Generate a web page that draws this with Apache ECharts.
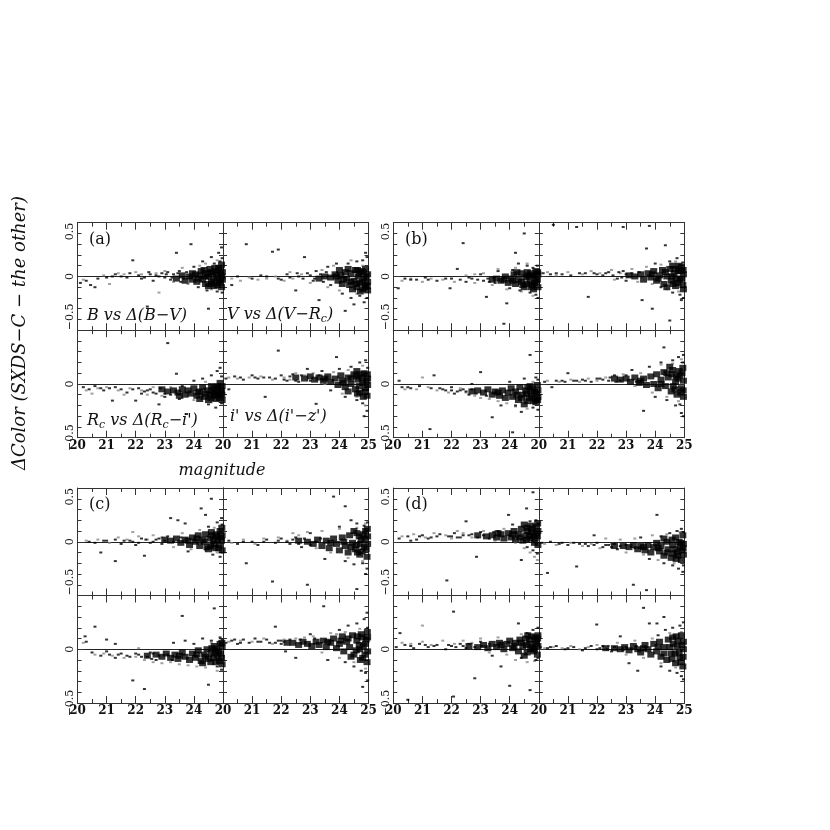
<!DOCTYPE html>
<html>
<head>
<meta charset="utf-8">
<script src="https://cdn.jsdelivr.net/npm/echarts@6/dist/echarts.min.js"></script>
<style>
html, body { margin: 0; padding: 0; background: #fff; }
#chart { width: 830px; height: 830px; }
</style>
</head>
<body>
<div id="chart"></div>
<script>
// axes: magnitude vs colour difference (SXDS-C minus the other catalogue)
const magTicks = [20, 21, 22, 23, 24, 25];
const colorTicks = [-0.5, 0, 0.5];
const groupTags = ['(a)', '(b)', '(c)', '(d)'];

// each panel: dense core, single black dots, grey dots  [mag, dColor]
// --- group (a)
const aTL_core = [[23.85,0.00],[23.95,-0.03],[24.05,0.02],[24.1,-0.05],[24.2,0.01],[24.25,0.05],[24.3,-0.03],[24.4,-0.07],[24.45,0.03],[24.5,0.0],[24.55,0.07],[24.6,-0.05],[24.65,0.03],[24.7,-0.09],[24.75,0.05],[24.8,-0.02],[24.85,0.08],[24.9,-0.06],[24.9,0.02],[24.95,0.11],[24.95,-0.1],[24.98,0.04],[24.98,-0.03],[24.5,-0.09],[24.35,0.06],[23.6,0.01],[23.4,-0.02],[23.7,-0.04],
  [24.92,0.06],[24.88,-0.04],[24.78,0.02],[24.68,-0.03],[24.58,0.04],[24.62,-0.07],[24.82,-0.08],[24.72,0.08],[24.96,0.0],[24.4,0.0],[24.15,-0.02],[23.95,0.03]];
const aTL_dots = [[20.1,-0.06],[20.3,-0.04],[20.45,-0.08],[20.7,-0.02],[21.0,-0.01],[21.3,0.02],[21.5,0.0],[21.8,0.03],[21.9,0.15],[22.1,0.01],[22.3,-0.01],[22.5,0.02],[22.6,-0.04],[22.8,0.0],[22.9,0.03],[23.0,-0.01],[23.1,0.04],[23.2,-0.03],[23.3,0.02],[23.4,0.22],[23.5,0.05],[23.55,-0.05],[23.9,0.3],[24.0,0.09],[24.15,-0.1],[24.3,0.14],[24.45,-0.13],[24.5,-0.3],[24.6,0.18],[24.7,0.12],[24.8,-0.14],[24.85,0.22],[24.95,0.27],[24.97,0.17],[24.97,-0.15],[24.9,0.14],[22.4,-0.28],[20.6,-0.1],
  [22.2,-0.02],[22.45,0.04],[22.7,0.01],[23.05,0.02],[23.25,-0.01],[23.45,0.03],[23.65,-0.02],[23.75,0.04],[21.2,0.0],[21.7,-0.01]];
const aTL_grey = [[20.2,-0.03],[20.9,0.01],[21.4,0.03],[21.6,0.02],[22.0,0.04],[22.2,0.02],[22.7,0.03],[23.0,0.05],[23.3,-0.05],[23.6,0.08],[23.8,-0.07],[24.2,0.1],[24.4,0.12],[24.6,-0.12],[24.8,0.15],[21.1,-0.07],[22.8,-0.15]];

const aTR_core = [[23.7,-0.01],[23.85,0.02],[23.95,-0.04],[24.05,0.01],[24.1,-0.07],[24.2,0.04],[24.25,-0.02],[24.35,-0.08],[24.4,0.03],[24.5,-0.04],[24.55,0.06],[24.6,-0.1],[24.65,0.0],[24.7,-0.06],[24.75,0.05],[24.8,-0.12],[24.85,-0.02],[24.9,0.07],[24.9,-0.08],[24.97,0.02],[24.97,-0.13],[24.97,-0.05],[24.45,-0.12],[24.3,0.07],[23.5,0.0],[23.3,-0.02],[24.0,0.06],
  [24.92,0.0],[24.88,-0.1],[24.78,-0.05],[24.68,0.03],[24.58,-0.07],[24.62,0.06],[24.82,0.04],[24.72,-0.14],[24.96,-0.09],[24.4,-0.05],[24.15,-0.03],[23.9,0.0]];
const aTR_dots = [[20.5,0.0],[20.8,0.3],[21.0,-0.02],[21.3,0.01],[21.7,0.23],[21.9,0.25],[22.0,-0.03],[22.2,0.02],[22.5,-0.13],[22.6,0.0],[22.9,0.03],[23.1,-0.04],[23.3,-0.22],[23.2,0.05],[23.6,0.09],[23.7,-0.08],[23.9,0.12],[24.1,-0.16],[24.3,0.12],[24.4,-0.2],[24.6,0.14],[24.7,-0.18],[24.8,0.15],[24.9,0.22],[24.95,0.18],[24.95,-0.2],[24.85,-0.24],[24.5,-0.26],[22.8,0.18],[20.3,-0.08],[24.2,-0.32],
  [22.3,-0.01],[22.55,0.03],[22.75,-0.02],[23.0,0.01],[23.15,-0.02],[23.35,0.02],[23.45,-0.05],[23.55,0.04],[21.5,0.0],[21.9,-0.02]];
const aTR_grey = [[20.3,-0.02],[20.6,-0.04],[20.9,-0.01],[21.2,-0.03],[21.5,-0.02],[21.8,0.0],[22.1,-0.04],[22.4,-0.02],[22.7,0.02],[23.0,-0.06],[23.4,0.06],[23.6,-0.1],[23.8,0.1],[24.0,-0.13],[24.4,0.15],[24.6,-0.16],[24.8,0.1],[22.3,0.04]];

const aBL_core = [[23.3,-0.06],[23.45,-0.08],[23.6,-0.05],[23.7,-0.1],[23.8,-0.06],[23.9,-0.09],[24.0,-0.04],[24.1,-0.11],[24.2,-0.07],[24.3,-0.03],[24.35,-0.12],[24.45,-0.06],[24.55,-0.1],[24.6,-0.02],[24.7,-0.08],[24.75,-0.14],[24.8,-0.04],[24.85,-0.1],[24.9,0.01],[24.95,-0.07],[24.97,-0.15],[24.97,-0.02],[24.5,-0.15],[23.1,-0.07],[22.9,-0.05],[24.2,-0.14],
  [24.92,-0.05],[24.88,-0.13],[24.78,-0.09],[24.68,-0.04],[24.58,-0.13],[24.62,-0.07],[24.82,-0.02],[24.72,-0.11],[24.96,-0.1],[24.4,-0.09],[24.15,-0.08],[23.5,-0.11]];
const aBL_dots = [[20.2,-0.03],[20.4,-0.05],[20.6,-0.02],[20.9,-0.06],[21.1,-0.04],[21.2,-0.155],[21.5,-0.05],[21.7,-0.08],[22.0,-0.155],[22.1,-0.04],[22.3,-0.07],[22.5,-0.05],[22.7,-0.09],[22.8,-0.19],[23.1,0.38],[23.4,0.095],[23.75,-0.28],[24.0,0.03],[24.3,0.05],[24.5,-0.19],[24.6,0.08],[24.8,0.12],[24.9,0.15],[24.95,0.07],[24.95,-0.18],[23.0,-0.12],[23.5,-0.14],[24.75,-0.22],
  [21.9,-0.05],[22.2,-0.09],[22.4,-0.06],[22.6,-0.08],[22.85,-0.04],[23.0,-0.09],[23.2,-0.1],[21.3,-0.03],[20.8,-0.04],[23.6,-0.02]];
const aBL_grey = [[20.3,-0.06],[20.7,-0.04],[21.0,-0.03],[21.4,-0.06],[21.8,-0.04],[22.2,-0.06],[22.4,-0.1],[22.6,-0.03],[22.9,-0.11],[23.2,-0.03],[23.6,-0.13],[24.0,-0.15],[24.4,0.02],[24.6,-0.17],[21.6,-0.1],[20.5,-0.09]];

const aBR_core = [[22.8,0.05],[23.0,0.07],[23.15,0.04],[23.3,0.06],[23.45,0.03],[23.6,0.07],[23.7,0.02],[23.85,0.05],[23.95,-0.01],[24.05,0.08],[24.1,0.03],[24.2,-0.03],[24.3,0.06],[24.4,0.0],[24.5,0.09],[24.55,-0.05],[24.65,0.04],[24.7,-0.08],[24.8,0.01],[24.85,0.1],[24.9,-0.04],[24.95,-0.11],[24.97,0.05],[24.97,-0.01],[24.6,0.12],[24.3,-0.07],[22.5,0.06],
  [24.92,0.03],[24.88,-0.07],[24.78,0.06],[24.68,-0.02],[24.58,0.07],[24.62,-0.09],[24.82,-0.12],[24.72,0.09],[24.96,0.09],[24.4,0.05],[24.15,0.01],[23.5,0.05]];
const aBR_dots = [[20.1,0.05],[20.4,0.07],[20.7,0.04],[21.0,0.08],[21.2,0.05],[21.45,-0.12],[21.6,0.06],[21.9,0.31],[22.0,0.08],[22.2,0.03],[22.4,0.09],[22.6,0.02],[23.2,-0.185],[23.4,0.12],[23.9,0.25],[23.7,-0.06],[24.0,0.14],[24.2,-0.12],[24.4,0.16],[24.6,-0.15],[24.7,0.2],[24.8,-0.18],[24.9,0.22],[24.95,-0.25],[24.97,0.15],[24.85,-0.3],[22.9,0.14],[20.2,-0.05],
  [21.4,0.06],[21.8,0.05],[22.1,0.04],[22.3,0.07],[22.5,0.03],[22.7,0.08],[23.0,0.03],[23.3,0.08],[20.6,0.06],[21.1,0.06]];
const aBR_grey = [[20.2,0.06],[20.5,0.05],[20.9,0.06],[21.3,0.07],[21.7,0.04],[22.1,0.06],[22.5,0.1],[22.8,0.08],[23.1,0.1],[23.5,0.0],[23.8,0.11],[24.1,-0.09],[24.3,0.13],[24.6,-0.12],[24.8,0.17],[24.9,-0.2],[22.3,0.04]];

// --- group (b)
const bTL_core = [[23.55,-0.02],[23.7,-0.04],[23.85,0.0],[23.95,-0.06],[24.05,-0.02],[24.15,0.02],[24.2,-0.07],[24.3,-0.03],[24.4,0.03],[24.45,-0.08],[24.55,-0.01],[24.6,0.04],[24.7,-0.05],[24.75,-0.1],[24.8,0.01],[24.85,-0.06],[24.9,0.05],[24.95,-0.03],[24.97,-0.1],[24.97,0.02],[24.5,-0.1],[23.4,-0.03],[24.25,0.04],
  [24.92,-0.05],[24.88,0.0],[24.78,-0.08],[24.68,0.0],[24.58,-0.07],[24.62,0.01],[24.82,-0.12],[24.72,0.03],[24.96,0.04],[24.4,-0.05],[24.1,-0.04],[23.8,-0.03]];
const bTL_dots = [[20.17,-0.11],[20.4,-0.02],[20.8,-0.03],[21.1,-0.01],[21.5,-0.04],[21.95,-0.11],[22.0,-0.02],[22.2,0.07],[22.4,0.31],[22.6,-0.01],[22.9,-0.03],[23.0,0.02],[23.2,-0.19],[23.3,-0.05],[23.8,-0.44],[23.9,-0.25],[24.1,0.06],[24.2,0.22],[24.3,0.12],[24.35,-0.13],[24.5,0.4],[24.6,0.1],[24.7,-0.15],[24.8,0.08],[24.9,-0.17],[24.95,0.1],[24.97,-0.2],[23.6,0.05],[24.0,-0.11],
  [22.3,-0.03],[22.5,-0.05],[22.7,-0.02],[23.1,-0.04],[23.25,-0.02],[23.45,-0.01],[21.8,-0.02],[21.2,-0.03],[20.6,-0.03],[23.5,-0.06]];
const bTL_grey = [[20.3,-0.04],[20.6,-0.02],[21.0,-0.05],[21.3,-0.02],[21.7,-0.03],[22.1,-0.05],[22.5,0.01],[22.8,-0.06],[23.1,0.03],[23.4,-0.08],[23.6,0.07],[23.9,-0.12],[24.2,0.08],[24.4,-0.14],[24.6,0.12],[24.8,-0.18],[22.8,0.02]];

const bTR_core = [[23.3,0.0],[23.5,0.02],[23.6,-0.03],[23.75,0.03],[23.85,-0.01],[23.95,0.05],[24.05,-0.04],[24.15,0.01],[24.25,0.06],[24.3,-0.07],[24.4,0.0],[24.5,0.07],[24.55,-0.04],[24.65,0.03],[24.7,-0.09],[24.8,0.05],[24.85,-0.03],[24.9,0.09],[24.95,-0.08],[24.97,0.02],[24.97,-0.12],[24.4,-0.1],[24.6,0.1],[23.1,0.01],
  [24.92,-0.02],[24.88,0.05],[24.78,-0.06],[24.68,0.07],[24.58,0.0],[24.62,-0.07],[24.82,0.1],[24.72,-0.02],[24.96,0.06],[24.35,0.04],[24.1,-0.02],[23.9,0.02]];
const bTR_dots = [[20.15,0.03],[20.4,0.02],[20.5,0.48],[20.8,0.02],[21.1,0.01],[21.4,0.03],[21.7,-0.19],[21.9,0.03],[22.2,0.01],[22.4,0.04],[22.7,-0.02],[22.9,0.05],[23.0,-0.04],[23.55,-0.22],[23.7,0.26],[23.9,-0.3],[24.0,0.12],[24.2,-0.1],[24.35,0.29],[24.5,0.14],[24.6,-0.15],[24.75,0.17],[24.85,-0.17],[24.95,0.13],[24.97,-0.2],[24.9,-0.22],[22.9,0.46],[23.8,0.47],[21.3,0.46],[24.5,-0.41],
  [22.3,0.03],[22.55,0.01],[22.75,0.04],[23.0,0.02],[23.2,0.03],[22.0,0.02],[21.6,0.03],[20.6,0.03],[23.45,0.04],[22.85,-0.01]];
const bTR_grey = [[20.3,0.04],[20.6,0.01],[21.0,0.04],[21.5,0.02],[21.8,0.05],[22.1,0.03],[22.5,0.06],[22.8,0.03],[23.2,0.07],[23.4,-0.05],[23.7,0.09],[23.9,-0.07],[24.2,0.11],[24.4,-0.12],[24.7,0.14],[24.8,-0.14],[22.6,-0.03]];

const bBL_core = [[22.9,-0.06],[23.1,-0.08],[23.25,-0.05],[23.4,-0.1],[23.5,-0.07],[23.65,-0.11],[23.75,-0.06],[23.85,-0.13],[23.95,-0.08],[24.05,-0.04],[24.1,-0.12],[24.2,-0.07],[24.3,-0.15],[24.35,-0.03],[24.45,-0.1],[24.55,-0.06],[24.6,-0.16],[24.7,-0.02],[24.75,-0.11],[24.85,-0.07],[24.9,-0.17],[24.95,-0.01],[24.97,-0.12],[24.97,-0.06],[24.5,-0.19],[22.7,-0.07],
  [24.92,-0.09],[24.88,-0.14],[24.78,-0.04],[24.68,-0.13],[24.58,-0.09],[24.62,-0.03],[24.82,-0.16],[24.72,-0.07],[24.96,-0.15],[24.4,-0.13],[24.25,-0.1],[23.6,-0.08]];
const bBL_dots = [[20.2,0.03],[20.3,-0.03],[20.6,-0.04],[20.9,-0.02],[21.26,-0.42],[21.4,0.08],[21.6,-0.04],[21.8,-0.06],[22.0,-0.03],[22.2,-0.07],[22.4,-0.05],[22.6,-0.1],[23.0,0.11],[23.4,-0.31],[23.7,-0.2],[24.0,0.02],[24.2,-0.2],[24.5,0.05],[24.7,0.27],[24.8,-0.22],[24.9,0.06],[24.97,0.04],[24.97,-0.24],[24.4,-0.26],[24.1,-0.45],[22.7,0.0],
  [22.0,-0.06],[22.3,-0.06],[22.5,-0.07],[22.7,-0.05],[22.85,-0.09],[21.3,-0.04],[21.7,-0.05],[20.5,-0.03],[23.2,-0.11],[22.1,-0.09]];
const bBL_grey = [[20.4,-0.05],[20.8,-0.05],[21.2,-0.03],[21.5,-0.06],[21.9,-0.08],[22.3,-0.04],[22.5,-0.08],[22.8,-0.11],[23.0,-0.13],[23.3,-0.14],[23.6,-0.16],[23.9,-0.18],[24.2,-0.21],[24.6,-0.23],[24.8,0.02],[21.0,0.06]];

const bBR_core = [[22.8,0.04],[23.0,0.05],[23.15,0.02],[23.3,0.06],[23.45,0.01],[23.6,0.05],[23.7,-0.01],[23.85,0.07],[23.95,0.0],[24.05,0.09],[24.1,-0.04],[24.2,0.04],[24.3,0.11],[24.35,-0.02],[24.45,0.06],[24.55,-0.07],[24.6,0.13],[24.7,0.02],[24.75,-0.1],[24.85,0.08],[24.9,-0.04],[24.95,0.15],[24.97,-0.12],[24.97,0.03],[24.5,0.16],[22.6,0.05],
  [24.92,0.1],[24.88,-0.08],[24.78,0.05],[24.68,-0.05],[24.58,0.09],[24.62,-0.02],[24.82,0.12],[24.72,0.07],[24.96,-0.06],[24.4,0.1],[24.2,0.0],[23.5,0.03]];
const bBR_dots = [[20.2,0.02],[20.45,-0.03],[20.6,0.03],[20.9,0.02],[21.2,0.03],[21.5,0.04],[21.8,0.02],[22.1,0.05],[22.4,0.03],[22.6,0.08],[23.6,-0.25],[23.8,0.16],[24.0,-0.12],[24.2,0.2],[24.3,0.34],[24.4,-0.15],[24.6,0.22],[24.7,-0.2],[24.8,0.25],[24.9,-0.27],[24.95,0.2],[24.97,0.27],[24.97,-0.3],[24.85,-0.19],[23.2,0.13],[21.0,0.1],
  [22.2,0.04],[22.45,0.06],[22.8,0.03],[23.0,0.08],[21.3,0.03],[21.6,0.03],[22.0,0.05],[23.35,0.02],[20.8,0.03],[22.65,0.02]];
const bBR_grey = [[20.3,0.03],[20.7,0.02],[21.1,0.04],[21.4,0.02],[21.7,0.05],[22.0,0.03],[22.3,0.06],[22.9,0.09],[23.3,-0.02],[23.5,0.1],[23.9,-0.08],[24.2,0.18],[24.4,-0.12],[24.6,0.19],[24.8,-0.16],[24.9,0.23]];

// --- group (c)
const cTL_core = [[23.2,0.01],[23.4,0.03],[23.55,-0.01],[23.7,0.02],[23.85,-0.03],[23.95,0.04],[24.05,0.0],[24.15,0.06],[24.2,-0.04],[24.3,0.02],[24.4,0.07],[24.45,-0.05],[24.55,0.03],[24.6,0.09],[24.7,-0.02],[24.75,0.05],[24.85,-0.06],[24.9,0.1],[24.95,0.01],[24.97,-0.08],[24.97,0.06],[24.5,-0.07],[23.0,0.02],
  [24.92,0.04],[24.88,-0.03],[24.78,0.07],[24.68,0.01],[24.58,-0.04],[24.62,0.06],[24.82,0.02],[24.72,-0.06],[24.96,0.13],[24.35,0.0],[24.1,0.03],[23.8,0.01]];
const cTL_dots = [[20.4,0.0],[20.6,-0.01],[20.8,-0.1],[21.0,0.01],[21.3,0.02],[21.5,-0.02],[21.8,0.01],[22.0,-0.03],[22.2,0.03],[22.5,-0.01],[22.7,0.02],[22.9,-0.02],[23.1,0.05],[23.2,0.22],[23.45,0.2],[23.7,0.17],[24.25,0.31],[24.4,0.25],[24.6,0.4],[24.5,0.14],[24.65,-0.12],[24.8,0.18],[24.9,-0.14],[24.95,0.22],[24.97,-0.1],[24.97,0.16],[23.8,-0.09],[22.3,-0.13],[21.3,-0.18],
  [22.35,0.02],[22.6,0.0],[22.8,0.03],[23.0,0.01],[23.3,0.0],[23.55,0.04],[21.6,0.01],[21.9,0.0],[20.9,0.01],[22.1,-0.01]];
const cTL_grey = [[20.3,0.01],[20.7,0.02],[21.1,-0.01],[21.4,0.04],[21.7,0.02],[22.1,0.05],[22.4,0.02],[22.6,0.06],[22.9,0.04],[23.3,-0.05],[23.6,0.08],[23.9,-0.07],[24.2,0.11],[24.4,-0.08],[24.7,0.13],[24.8,-0.1],[21.9,0.09]];

const cTR_core = [[22.9,0.0],[23.1,-0.02],[23.25,0.02],[23.4,-0.04],[23.55,0.01],[23.65,-0.06],[23.8,0.03],[23.9,-0.02],[24.0,-0.08],[24.1,0.04],[24.2,-0.04],[24.3,-0.1],[24.35,0.06],[24.45,-0.01],[24.55,-0.07],[24.6,0.08],[24.7,-0.12],[24.75,0.02],[24.85,-0.05],[24.9,0.1],[24.95,-0.14],[24.97,-0.02],[24.97,0.05],[24.5,0.1],[22.6,0.01],
  [24.92,-0.07],[24.88,0.03],[24.78,-0.09],[24.68,0.05],[24.58,-0.03],[24.62,-0.1],[24.82,0.07],[24.72,-0.02],[24.96,0.12],[24.4,-0.05],[24.15,0.0],[23.7,-0.01]];
const cTR_dots = [[20.2,0.01],[20.5,-0.02],[20.8,-0.2],[21.0,0.0],[21.2,-0.03],[21.5,0.02],[21.8,-0.01],[22.0,0.03],[22.3,-0.02],[22.5,0.04],[22.7,-0.05],[23.0,0.08],[23.5,-0.16],[23.8,0.42],[24.0,0.14],[24.2,-0.18],[24.4,0.2],[24.5,-0.21],[24.6,0.17],[24.8,-0.2],[24.85,0.15],[24.95,-0.25],[24.97,0.18],[24.9,-0.3],[24.2,0.33],[21.7,-0.37],[22.9,-0.4],[24.6,-0.44],
  [22.2,0.0],[22.4,0.02],[22.6,-0.02],[22.8,0.03],[23.2,0.0],[23.35,0.03],[21.4,0.0],[21.9,0.01],[20.7,0.0],[23.0,-0.03]];
const cTR_grey = [[20.3,-0.01],[20.7,0.02],[21.1,-0.02],[21.4,0.03],[21.9,0.04],[22.2,0.01],[22.6,0.06],[22.9,0.09],[23.2,-0.06],[23.4,0.1],[23.7,-0.1],[24.0,0.12],[24.3,-0.15],[24.6,0.13],[24.8,-0.18],[24.9,0.17],[22.4,0.08]];

const cBL_core = [[22.7,-0.05],[22.9,-0.07],[23.05,-0.04],[23.2,-0.08],[23.35,-0.05],[23.45,-0.09],[23.6,-0.03],[23.7,-0.07],[23.85,-0.1],[23.95,-0.04],[24.05,-0.08],[24.15,-0.01],[24.25,-0.11],[24.35,-0.05],[24.45,0.0],[24.5,-0.09],[24.6,-0.04],[24.7,0.03],[24.75,-0.12],[24.85,-0.02],[24.9,0.05],[24.95,-0.08],[24.97,-0.14],[24.97,0.02],[24.3,-0.13],[22.4,-0.06],
  [24.92,-0.04],[24.88,-0.11],[24.78,0.0],[24.68,-0.08],[24.58,-0.12],[24.62,0.01],[24.82,-0.06],[24.72,-0.03],[24.96,0.06],[24.4,-0.07],[24.1,-0.05],[23.5,-0.06]];
const cBL_dots = [[20.26,0.12],[20.3,0.07],[20.6,0.21],[20.5,-0.03],[20.8,-0.06],[21.0,0.09],[21.0,-0.02],[21.3,-0.08],[21.5,-0.04],[21.7,-0.06],[21.9,-0.29],[22.0,-0.04],[22.2,-0.07],[22.3,-0.37],[22.5,-0.03],[22.7,-0.1],[23.6,0.31],[23.7,0.08],[24.0,0.05],[24.3,0.1],[24.5,-0.33],[24.6,0.08],[24.7,0.38],[24.8,-0.16],[24.9,0.11],[24.97,0.09],[24.95,-0.19],[21.3,0.05],[23.3,0.06],
  [22.1,-0.05],[22.4,-0.07],[22.6,-0.04],[22.8,-0.06],[23.1,-0.05],[21.4,-0.05],[21.8,-0.07],[21.1,-0.05],[23.25,-0.1],[22.55,-0.09]];
const cBL_grey = [[20.2,0.06],[20.6,-0.05],[20.9,-0.04],[21.2,-0.06],[21.6,-0.08],[22.0,-0.07],[22.3,-0.1],[22.6,-0.12],[22.9,-0.13],[23.2,-0.12],[23.5,-0.14],[23.8,-0.15],[24.1,-0.16],[24.4,-0.17],[24.6,0.06],[24.8,-0.2],[22.1,0.01]];

const cBR_core = [[22.4,0.06],[22.6,0.04],[22.75,0.07],[22.9,0.05],[23.05,0.03],[23.2,0.07],[23.3,0.04],[23.45,0.08],[23.55,0.02],[23.7,0.06],[23.8,0.1],[23.9,0.01],[24.0,0.05],[24.1,0.12],[24.15,-0.02],[24.25,0.07],[24.35,0.02],[24.45,0.13],[24.5,-0.05],[24.6,0.08],[24.7,0.0],[24.75,0.14],[24.8,-0.08],[24.9,0.05],[24.95,-0.12],[24.97,0.11],[24.97,-0.02],[24.4,-0.07],[22.2,0.06],
  [24.92,0.09],[24.88,-0.05],[24.78,0.11],[24.68,0.04],[24.58,-0.01],[24.62,0.12],[24.82,0.03],[24.72,-0.1],[24.96,0.16],[24.3,0.1],[24.05,0.08],[23.6,0.07]];
const cBR_dots = [[20.1,0.06],[20.3,0.08],[20.5,0.05],[20.7,0.09],[20.9,0.06],[21.1,0.1],[21.3,0.07],[21.5,0.09],[21.8,0.21],[21.8,0.06],[22.0,0.08],[22.15,-0.02],[23.46,0.4],[23.6,-0.1],[24.0,0.18],[24.2,-0.12],[24.3,0.22],[24.5,-0.16],[24.6,0.24],[24.75,-0.2],[24.85,0.28],[24.9,-0.22],[24.95,0.34],[24.97,-0.29],[24.97,0.2],[24.8,-0.35],[22.5,-0.08],[23.0,0.14],
  [21.2,0.07],[21.6,0.06],[21.9,0.08],[22.1,0.07],[22.3,0.09],[20.6,0.06],[20.4,0.09],[22.0,0.05],[23.15,0.1],[22.65,0.09]];
const cBR_grey = [[20.2,0.07],[20.6,0.08],[21.0,0.07],[21.4,0.1],[21.7,0.05],[22.1,0.09],[22.5,0.1],[22.8,0.11],[23.1,0.12],[23.4,-0.03],[23.7,0.15],[24.0,-0.08],[24.2,0.16],[24.5,-0.12],[24.7,0.19],[24.9,-0.18],[23.9,0.14]];

// --- group (d)
const dTL_core = [[23.2,0.05],[23.4,0.06],[23.55,0.04],[23.7,0.07],[23.8,0.03],[23.95,0.08],[24.05,0.04],[24.15,0.1],[24.2,0.02],[24.3,0.07],[24.4,0.12],[24.45,0.01],[24.55,0.06],[24.6,0.13],[24.7,0.03],[24.75,0.09],[24.85,-0.01],[24.9,0.14],[24.95,0.05],[24.97,0.1],[24.97,-0.03],[24.5,0.16],[22.9,0.06],
  [24.92,0.08],[24.88,0.03],[24.78,0.12],[24.68,0.06],[24.58,0.02],[24.62,0.1],[24.82,0.05],[24.72,0.15],[24.96,0.17],[24.35,0.04],[24.1,0.07],[23.6,0.08]];
const dTL_dots = [[20.2,0.03],[20.5,0.05],[20.8,0.02],[21.0,0.06],[21.3,0.04],[21.6,0.07],[21.84,-0.36],[21.9,0.05],[22.1,0.08],[22.3,0.04],[22.5,0.19],[22.6,0.06],[22.86,-0.14],[23.0,0.09],[23.3,0.03],[23.96,0.25],[24.1,0.16],[24.4,-0.17],[24.58,0.31],[24.6,-0.05],[24.7,0.19],[24.8,-0.08],[24.9,0.2],[24.95,-0.11],[24.97,0.17],[24.8,0.46],[23.6,0.1],[20.6,0.01],
  [22.0,0.05],[22.2,0.04],[22.4,0.06],[22.7,0.07],[22.9,0.04],[23.1,0.06],[21.5,0.05],[21.2,0.03],[20.9,0.05],[23.45,0.09]];
const dTL_grey = [[20.3,0.05],[20.7,0.07],[21.1,0.04],[21.4,0.08],[21.8,0.06],[22.0,0.03],[22.4,0.08],[22.7,0.04],[23.1,0.1],[23.5,0.01],[23.8,0.12],[24.2,-0.01],[24.5,-0.06],[24.7,-0.1],[24.85,-0.14],[24.95,-0.17],[22.2,0.1]];

const dTR_core = [[22.9,-0.04],[23.1,-0.05],[23.25,-0.03],[23.4,-0.07],[23.5,-0.04],[23.65,-0.08],[23.75,-0.03],[23.85,-0.1],[23.95,-0.05],[24.05,-0.01],[24.15,-0.09],[24.2,-0.04],[24.3,-0.13],[24.4,0.0],[24.45,-0.07],[24.55,-0.15],[24.6,-0.03],[24.7,0.04],[24.75,-0.1],[24.85,-0.05],[24.9,-0.17],[24.95,0.06],[24.97,-0.02],[24.97,-0.12],[24.3,0.03],[22.6,-0.04],
  [24.92,-0.08],[24.88,-0.01],[24.78,-0.13],[24.68,-0.07],[24.58,0.02],[24.62,-0.11],[24.82,0.0],[24.72,-0.16],[24.96,-0.06],[24.4,-0.1],[24.1,-0.06],[23.6,-0.05]];
const dTR_dots = [[20.1,-0.01],[20.3,-0.29],[20.4,0.0],[20.7,-0.02],[21.0,-0.03],[21.3,-0.23],[21.4,-0.02],[21.7,-0.04],[22.0,-0.01],[22.2,-0.05],[22.4,-0.03],[22.7,-0.07],[23.25,-0.4],[23.5,0.04],[23.8,-0.16],[24.06,0.25],[24.2,0.05],[24.3,-0.2],[24.5,0.08],[24.6,-0.22],[24.75,0.1],[24.8,-0.25],[24.9,0.12],[24.95,-0.28],[24.97,0.09],[24.97,-0.22],[23.7,-0.45],[21.9,0.06],
  [22.3,-0.03],[22.5,-0.05],[22.6,-0.02],[22.8,-0.04],[23.0,-0.03],[21.9,-0.03],[21.6,-0.02],[21.2,-0.01],[20.8,-0.01],[23.3,-0.06]];
const dTR_grey = [[20.2,-0.02],[20.6,-0.03],[21.1,-0.01],[21.5,-0.04],[21.8,-0.02],[22.1,-0.06],[22.5,-0.02],[22.8,0.02],[23.0,-0.1],[23.3,0.03],[23.6,-0.12],[23.9,0.06],[24.1,-0.17],[24.4,0.07],[24.65,-0.2],[24.85,0.09],[22.3,0.03]];

const dBL_core = [[22.9,0.02],[23.1,0.04],[23.25,0.01],[23.4,0.05],[23.55,0.02],[23.65,0.06],[23.8,0.0],[23.9,0.05],[24.0,0.08],[24.1,0.01],[24.2,0.06],[24.3,-0.02],[24.35,0.09],[24.45,0.03],[24.55,0.1],[24.6,-0.03],[24.7,0.05],[24.75,0.12],[24.85,0.0],[24.9,0.08],[24.95,-0.05],[24.97,0.13],[24.97,0.03],[24.5,-0.06],[22.6,0.03],
  [24.92,0.05],[24.88,0.11],[24.78,0.02],[24.68,0.09],[24.58,0.04],[24.62,0.13],[24.82,-0.02],[24.72,0.0],[24.96,0.1],[24.4,0.06],[24.15,0.03],[23.7,0.04]];
const dBL_dots = [[20.1,0.02],[20.23,0.15],[20.4,0.04],[20.7,0.01],[20.9,0.05],[21.2,0.02],[21.5,0.04],[21.8,0.0],[22.07,0.35],[22.0,0.03],[22.07,-0.44],[22.3,0.05],[22.5,0.01],[22.8,-0.27],[23.0,0.07],[23.7,-0.16],[24.0,-0.34],[24.3,0.24],[24.4,-0.08],[24.6,0.15],[24.7,-0.38],[24.8,0.18],[24.9,-0.1],[24.97,0.2],[24.97,-0.08],[23.4,-0.06],[20.5,-0.47],
  [21.9,0.04],[22.15,0.02],[22.4,0.03],[22.6,0.05],[22.8,0.02],[23.05,0.03],[21.4,0.03],[21.1,0.04],[20.6,0.03],[23.3,0.05]];
const dBL_grey = [[20.3,0.06],[20.6,0.05],[21.0,0.07],[21.3,0.04],[21.7,0.08],[22.1,0.05],[22.4,0.08],[22.7,0.06],[23.0,0.1],[23.3,-0.03],[23.6,0.11],[23.9,-0.05],[24.2,-0.1],[24.4,0.14],[24.6,-0.12],[24.85,-0.11],[21.0,0.22]];

const dBR_core = [[22.6,0.01],[22.8,0.0],[22.95,0.02],[23.1,-0.01],[23.25,0.03],[23.4,0.0],[23.5,-0.03],[23.65,0.04],[23.75,0.0],[23.85,-0.05],[23.95,0.05],[24.05,-0.02],[24.15,0.07],[24.2,-0.07],[24.3,0.02],[24.4,-0.1],[24.45,0.09],[24.55,-0.04],[24.6,0.11],[24.7,-0.13],[24.75,0.03],[24.85,-0.08],[24.9,0.13],[24.95,-0.16],[24.97,0.0],[24.97,0.07],[24.5,0.02],[22.3,0.01],
  [24.92,0.04],[24.88,-0.12],[24.78,0.08],[24.68,-0.04],[24.58,-0.09],[24.62,0.05],[24.82,-0.03],[24.72,0.12],[24.96,-0.07],[24.3,-0.04],[24.1,0.02],[23.6,0.01]];
const dBR_dots = [[20.05,0.02],[20.3,0.01],[20.6,0.03],[20.9,0.0],[21.2,0.02],[21.5,-0.01],[21.8,0.03],[21.99,0.23],[22.0,0.0],[22.2,0.03],[22.5,-0.02],[23.4,-0.2],[23.6,0.385],[23.8,0.24],[24.06,0.24],[24.1,0.13],[24.2,-0.16],[24.35,0.18],[24.5,-0.2],[24.6,0.2],[24.75,-0.22],[24.85,0.22],[24.9,-0.25],[24.97,0.25],[24.97,-0.28],[23.1,-0.13],[22.8,0.12],[24.3,0.3],
  [22.1,0.01],[22.35,0.0],[22.6,0.02],[22.9,-0.01],[23.0,0.02],[23.2,0.0],[21.6,0.01],[21.0,0.01],[20.4,0.02],[23.35,0.03]];
const dBR_grey = [[20.2,0.01],[20.5,0.02],[20.8,0.01],[21.1,0.03],[21.4,0.0],[21.7,0.02],[22.0,0.04],[22.4,0.03],[22.7,0.06],[23.0,-0.05],[23.3,0.08],[23.6,-0.08],[23.9,0.1],[24.2,-0.13],[24.5,0.15],[24.7,-0.17],[24.9,0.16]];

// panel layout (col, row in the 4x4 grid of frames)
const colLeft = [77.5, 223, 393.3, 538.8];
const rowTop = [222.7, 330.2, 488, 595.5];
const panelW = 145.5, panelH = 107.5;

const panels = [
  { col: 0, row: 0, core: aTL_core, dots: aTL_dots, grey: aTL_grey },
  { col: 1, row: 0, core: aTR_core, dots: aTR_dots, grey: aTR_grey },
  { col: 0, row: 1, core: aBL_core, dots: aBL_dots, grey: aBL_grey },
  { col: 1, row: 1, core: aBR_core, dots: aBR_dots, grey: aBR_grey },
  { col: 2, row: 0, core: bTL_core, dots: bTL_dots, grey: bTL_grey },
  { col: 3, row: 0, core: bTR_core, dots: bTR_dots, grey: bTR_grey },
  { col: 2, row: 1, core: bBL_core, dots: bBL_dots, grey: bBL_grey },
  { col: 3, row: 1, core: bBR_core, dots: bBR_dots, grey: bBR_grey },
  { col: 0, row: 2, core: cTL_core, dots: cTL_dots, grey: cTL_grey },
  { col: 1, row: 2, core: cTR_core, dots: cTR_dots, grey: cTR_grey },
  { col: 0, row: 3, core: cBL_core, dots: cBL_dots, grey: cBL_grey },
  { col: 1, row: 3, core: cBR_core, dots: cBR_dots, grey: cBR_grey },
  { col: 2, row: 2, core: dTL_core, dots: dTL_dots, grey: dTL_grey },
  { col: 3, row: 2, core: dTR_core, dots: dTR_dots, grey: dTR_grey },
  { col: 2, row: 3, core: dBL_core, dots: dBL_dots, grey: dBL_grey },
  { col: 3, row: 3, core: dBR_core, dots: dBR_dots, grey: dBR_grey }
];

const frameColor = '#333';
const labelFont = '"DejaVu Serif", "Liberation Serif", serif';

const chart = echarts.init(document.getElementById('chart'));
const grids = [], xAxes = [], yAxes = [], series = [];

const fmtColor = v => v === 0 ? '0' : (v > 0 ? '0.5' : '\u22120.5');

panels.forEach((p, i) => {
  grids.push({ left: colLeft[p.col], top: rowTop[p.row], width: panelW, height: panelH });

  const lowerRow = p.row % 2 === 1;
  const leftCol = p.col % 2 === 0;

  const xBase = {
    type: 'value', gridIndex: i, min: magTicks[0], max: magTicks[magTicks.length - 1], interval: 1,
    axisLine: { show: true, onZero: false, lineStyle: { color: frameColor, width: 1 } },
    axisTick: { show: true, inside: true, length: 7, lineStyle: { color: frameColor } },
    minorTick: { show: true, splitNumber: 2, length: 4, lineStyle: { color: frameColor } },
    splitLine: { show: false }
  };
  xAxes.push(Object.assign({}, xBase, {
    position: 'bottom',
    axisLabel: {
      show: lowerRow, margin: 2, color: '#111', fontFamily: labelFont, fontSize: 12, fontWeight: 'bold',
      formatter: v => (leftCol && v === 25) ? '' : String(v)
    }
  }));
  xAxes.push(Object.assign({}, xBase, { position: 'top', axisLabel: { show: false } }));

  const yBase = {
    type: 'value', gridIndex: i, min: colorTicks[0], max: colorTicks[2], interval: 0.5,
    axisLine: { show: true, onZero: false, lineStyle: { color: frameColor, width: 1 } },
    axisTick: { show: true, inside: true, length: 7, lineStyle: { color: frameColor } },
    minorTick: { show: true, splitNumber: 5, length: 4, lineStyle: { color: frameColor } }
  };
  yAxes.push(Object.assign({}, yBase, {
    position: 'left',
    splitLine: { show: true, lineStyle: { color: '#222', width: 1 } },
    axisLabel: {
      show: leftCol, rotate: 90, margin: 2, color: '#111', fontFamily: labelFont, fontSize: 11,
      alignMinLabel: lowerRow ? 'center' : 'left',
      alignMaxLabel: 'right',
      formatter: v => (lowerRow && v === 0.5) ? '' : fmtColor(v)
    }
  }));
  yAxes.push(Object.assign({}, yBase, { position: 'right', splitLine: { show: false }, axisLabel: { show: false } }));

  const common = { type: 'scatter', xAxisIndex: 2 * i, yAxisIndex: 2 * i, symbol: 'rect', silent: true, animation: false };
  series.push(Object.assign({}, common, { data: p.grey, symbolSize: [3, 2], itemStyle: { color: '#8a8a8a' } }));
  series.push(Object.assign({}, common, { data: p.core, symbolSize: [7, 6], itemStyle: { color: '#000' } }));
  series.push(Object.assign({}, common, { data: p.dots, symbolSize: [3, 2], itemStyle: { color: '#000' } }));
});

const italic = 'italic 16px "DejaVu Serif"';
const upright = '16px "DejaVu Serif"';
const txt = (x, y, text, font, extra) => ({
  type: 'text', x: x, y: y, silent: true,
  style: Object.assign({ text: text, font: font, fill: '#111', textAlign: 'left', textVerticalAlign: 'middle', align: 'left', verticalAlign: 'middle' }, extra || {})
});
const subRich = {
  i: { font: italic, fill: '#111' },
  s: { font: 'italic 11px "DejaVu Serif"', fill: '#111', padding: [9, 0, 0, 0] }
};

chart.setOption({
  animation: false,
  backgroundColor: '#fff',
  grid: grids,
  xAxis: xAxes,
  yAxis: yAxes,
  series: series,
  graphic: [
    txt(89, 240, groupTags[0], upright),
    txt(405, 240, groupTags[1], upright),
    txt(89, 505, groupTags[2], upright),
    txt(405, 505, groupTags[3], upright),
    txt(87, 316, 'B vs \u0394(B\u2212V)', italic),
    { type: 'text', x: 227, y: 315, silent: true,
      style: { text: '{i|V vs \u0394(V\u2212R}{s|c}{i|)}', rich: subRich, font: italic, textVerticalAlign: 'middle', verticalAlign: 'middle' } },
    { type: 'text', x: 87, y: 421, silent: true,
      style: { text: '{i|R}{s|c}{i| vs \u0394(R}{s|c}{i|\u2212i\')}', rich: subRich, font: italic, textVerticalAlign: 'middle', verticalAlign: 'middle' } },
    txt(230, 417, 'i\' vs \u0394(i\'\u2212z\')', italic),
    txt(222, 471, 'magnitude', italic, { textAlign: 'center', align: 'center' }),
    Object.assign(txt(20, 333, '\u0394Color (SXDS\u2212C \u2212 the other)', 'italic 18px "DejaVu Serif"', { textAlign: 'center', align: 'center' }), { rotation: Math.PI / 2 })
  ]
});
</script>
</body>
</html>
